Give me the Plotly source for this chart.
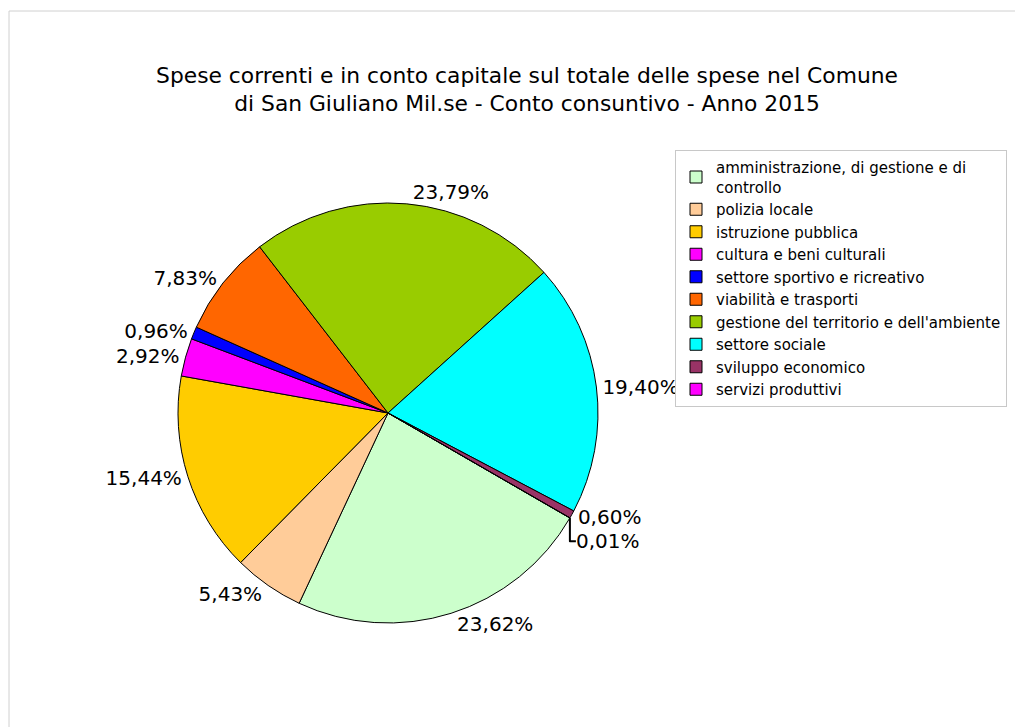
import plotly.graph_objects as go

categories = [
    "amministrazione, di gestione e di<br>controllo",
    "polizia locale",
    "istruzione pubblica",
    "cultura e beni culturali",
    "settore sportivo e ricreativo",
    "viabilità e trasporti",
    "gestione del territorio e dell'ambiente",
    "settore sociale",
    "sviluppo economico",
    "servizi produttivi",
]
values = [23.62, 5.43, 15.44, 2.92, 0.96, 7.83, 23.79, 19.40, 0.60, 0.01]
colors = ["#CCFFCC", "#FFCC99", "#FFCC00", "#FF00FF", "#0000FF",
          "#FF6600", "#99CC00", "#00FFFF", "#993366", "#FF00FF"]
labels_txt = [f"{v:.2f}".replace(".", ",") + "%" for v in values]

W, H = 1015, 719

fig = go.Figure(go.Pie(
    labels=categories,
    values=values,
    text=labels_txt,
    texttemplate="%{text}",
    textposition="outside",
    textfont=dict(family="DejaVu Sans", size=20, color="#000000"),
    marker=dict(colors=colors, line=dict(color="#000000", width=1)),
    sort=False,
    direction="clockwise",
    rotation=120,
    domain=dict(x=[170 / W, 590 / W], y=[104 / H, 524 / H]),
    hoverinfo="label+percent",
))

fig.update_layout(
    width=W, height=H,
    margin=dict(l=0, r=0, t=0, b=0),
    paper_bgcolor="#FFFFFF",
    plot_bgcolor="#FFFFFF",
    font=dict(family="DejaVu Sans", color="#000000"),
    title=dict(
        text="Spese correnti e in conto capitale sul totale delle spese nel Comune<br>di San Giuliano Mil.se - Conto consuntivo - Anno 2015",
        x=519 / W, xanchor="center", y=1 - 75 / H, yanchor="middle",
        font=dict(family="DejaVu Sans", size=21.8, color="#000000"),
    ),
    legend=dict(
        x=667 / W, xanchor="left", y=1 - 142 / H, yanchor="top",
        bordercolor="#C8C8C8", borderwidth=1,
        bgcolor="#FFFFFF",
        font=dict(family="DejaVu Sans", size=15, color="#000000"),
        itemclick=False,
    ),
    shapes=[dict(type="rect", xref="paper", yref="paper",
                 x0=1 / W, x1=1.05, y0=-0.05, y1=1 - 3 / H,
                 line=dict(color="#D0D0D0", width=1))],
)

fig.write_html("out.html")
